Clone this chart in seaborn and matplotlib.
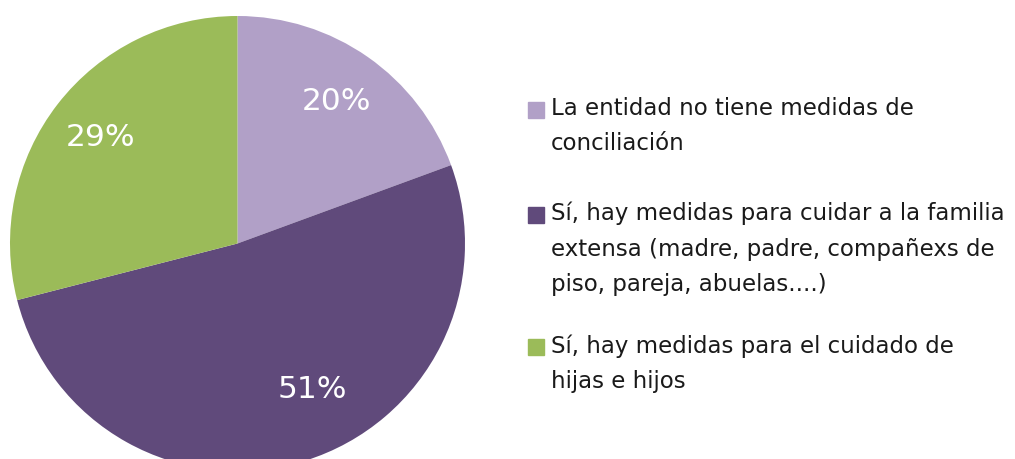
import matplotlib
matplotlib.use("Agg")
import matplotlib.pyplot as plt
import seaborn as sns
import numpy as np

# data
categories = [
    "La entidad no tiene medidas de\nconciliación",
    "Sí, hay medidas para cuidar a la familia\nextensa (madre, padre, compañexs de\npiso, pareja, abuelas....)",
    "Sí, hay medidas para el cuidado de\nhijas e hijos",
]
shares = [19.4, 51.6, 29.0]          # slice sizes as drawn
pct_labels = ["20%", "51%", "29%"]   # labels as printed
colors = ["#b1a0c7", "#604a7b", "#9bbb59"]

sns.set_theme(style="white")
plt.rcParams["font.family"] = ["DejaVu Sans"]

fig = plt.figure(figsize=(10.15, 4.59), dpi=100)
W, H = 1015, 459

# square axes for the pie (pie runs off the bottom edge like the original)
ax = fig.add_axes([10 / W, -12 / H, 455 / W, 455 / H])
wedges, texts = ax.pie(
    shares, colors=colors, startangle=90, counterclock=False,
    radius=1, wedgeprops=dict(linewidth=0),
)
ax.set_xlim(-1, 1)
ax.set_ylim(-1, 1)
ax.set_aspect("equal")
ax.axis("off")

# percentage labels inside the slices
label_pos = [(0.76, None), (0.72, -63), (0.76, None)]
for w, lab, (r, a) in zip(wedges, pct_labels, label_pos):
    if a is None:
        a = (w.theta1 + w.theta2) / 2
    ang = np.deg2rad(a)
    ax.text(r * np.cos(ang), r * np.sin(ang), lab, color="white",
            fontsize=22.5, ha="center", va="center")

# legend drawn by hand so the square lines up with the first line of text
tops = [97, 202, 334]
for lab, col, top in zip(categories, colors, tops):
    fig.patches.append(plt.Rectangle((528 / W, 1 - (top + 21) / H), 16 / W, 16 / H,
                                     transform=fig.transFigure, color=col, figure=fig))
    fig.text(551 / W, 1 - top / H, lab, fontsize=16.5, color="#1a1a1a",
             va="top", ha="left", linespacing=1.68)

fig.savefig("out.png", dpi=100)
